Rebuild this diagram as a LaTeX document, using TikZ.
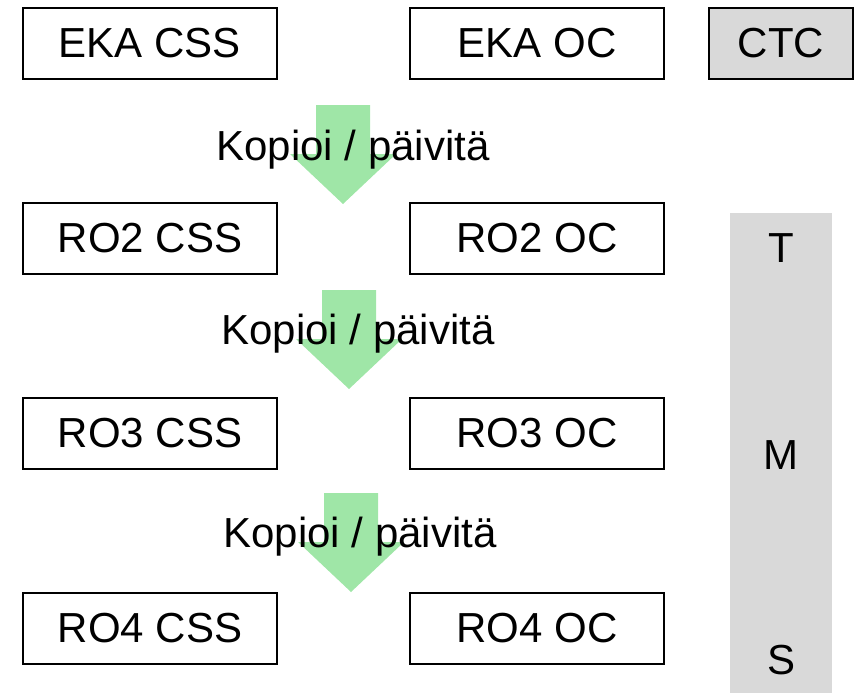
\documentclass[tikz,border=0pt]{standalone}
\usepackage{fontspec}
\setmainfont{Liberation Sans}
\usetikzlibrary{positioning}
\definecolor{copygreen}{RGB}{159,230,167}
\definecolor{tmsgray}{RGB}{217,217,217}

\begin{document}
\begin{tikzpicture}[x=1pt,y=-1pt,
    big/.style={font=\fontsize{42}{50}\selectfont},
    box/.style={big,draw,line width=1.5pt,minimum height=71pt,minimum width=254pt},
    copyarrow/.style={fill=copygreen}]
\useasboundingbox (0,0) rectangle (864,693);

% T M S bar
\fill[tmsgray] (730,213) rectangle (832,693);
\node[big] (T) at (781,248) {T};
\node[big] (M) at (781,455) {M};
\node[big] (S) at (781,660) {S};

% green copy arrows with their labels
\foreach \x/\y/\tx/\ty [count=\n] in {343/105/353/160, 349/290/358/344, 351/493/360/547}
   {
   \coordinate (A\n) at (\x-27,\y);
   \fill[copyarrow] (A\n) -- ++(54,0) -- ++(0,49) -- ++(26,0) -- ++(-53,50)
        -- ++(-53,-50) -- ++(26,0) -- cycle;
   \node[big,anchor=base] (K\n) at (\tx,\ty) {Kopioi / päivitä};
   }

% the boxes
\foreach \r [count=\n] in {EKA,RO2,RO3,RO4}
   {
   \node[box] (CSS\n) at (150,43.5+195*\n-195) {\r{} CSS};
   \node[box] (OC\n) at (537,43.5+195*\n-195) {\r{} OC};
   }
\node[box,fill=tmsgray,minimum width=144pt] (CTC) at (781,43.5) {CTC};
\end{tikzpicture}
\end{document}
